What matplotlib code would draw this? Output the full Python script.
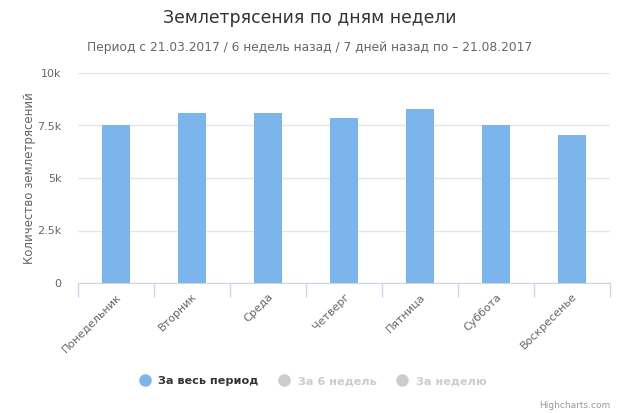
import matplotlib
matplotlib.use("Agg")
import matplotlib.pyplot as plt
from matplotlib.lines import Line2D
import numpy as np

# data
days = ["Понедельник", "Вторник", "Среда", "Четверг", "Пятница", "Суббота", "Воскресенье"]
quakes_all = [7520, 8090, 8090, 7880, 8290, 7500, 7050]
series_names = ["За весь период", "За 6 недель", "За неделю"]
series_visible = [True, False, False]
y_ticks = [0, 2500, 5000, 7500, 10000]
y_tick_labels = ["0", "2.5k", "5k", "7.5k", "10k"]

plt.rcParams["font.family"] = ["DejaVu Sans"]

fig = plt.figure(figsize=(6.2, 4.13), dpi=100)
ax = fig.add_axes([78 / 620, 1 - 283 / 413, (610 - 78) / 620, (283 - 73) / 413])

x = np.arange(len(days))
ax.bar(x, quakes_all, width=0.36, color="#7cb5ec", zorder=3)

ax.set_xlim(-0.5, len(days) - 0.5)
ax.set_ylim(0, 10000)
ax.set_yticks(y_ticks)
ax.set_yticklabels(y_tick_labels, color="#666666", fontsize=8)
ax.tick_params(axis="y", length=0, pad=12)
ax.grid(axis="y", color="#e6e6e6", linewidth=1, zorder=0)

ax.set_xticks(x)
ax.set_xticklabels(days, rotation=45, ha="right", va="top", rotation_mode="anchor",
                   color="#666666", fontsize=8)
ax.tick_params(axis="x", which="major", length=0, pad=6)
ax.set_xticks(np.arange(len(days) + 1) - 0.5, minor=True)
ax.tick_params(axis="x", which="minor", length=10, color="#ccd6eb", width=1)

for side in ["top", "right", "left"]:
    ax.spines[side].set_visible(False)
ax.spines["bottom"].set_color("#ccd6eb")

ax.set_ylabel("Количество землетрясений", color="#666666", fontsize=8.5, labelpad=1)

fig.text(0.5, 1 - 18 / 413, "Землетрясения по дням недели", ha="center", va="center",
         fontsize=12.45, color="#333333")
fig.text(0.5, 1 - 48 / 413,
         "Период с 21.03.2017 / 6 недель назад / 7 дней назад по – 21.08.2017",
         ha="center", va="center", fontsize=8.8, color="#666666")

handles = []
for name, vis in zip(series_names, series_visible):
    c = "#7cb5ec" if vis else "#cccccc"
    handles.append(Line2D([], [], marker="o", linestyle="none", markersize=8,
                          markerfacecolor=c, markeredgecolor=c))
leg = fig.legend(handles, series_names, loc="center", bbox_to_anchor=(0.5, 1 - 381 / 413),
                 ncol=3, frameon=False, handletextpad=0.2, columnspacing=1.3,
                 prop={"weight": "bold", "size": 8.1})
for t, vis in zip(leg.get_texts(), series_visible):
    t.set_color("#333333" if vis else "#cccccc")

fig.text(1 - 10 / 620, 1 - 405 / 413, "Highcharts.com", ha="right", va="center",
         fontsize=6.5, color="#999999")

fig.savefig("out.png", dpi=100)
